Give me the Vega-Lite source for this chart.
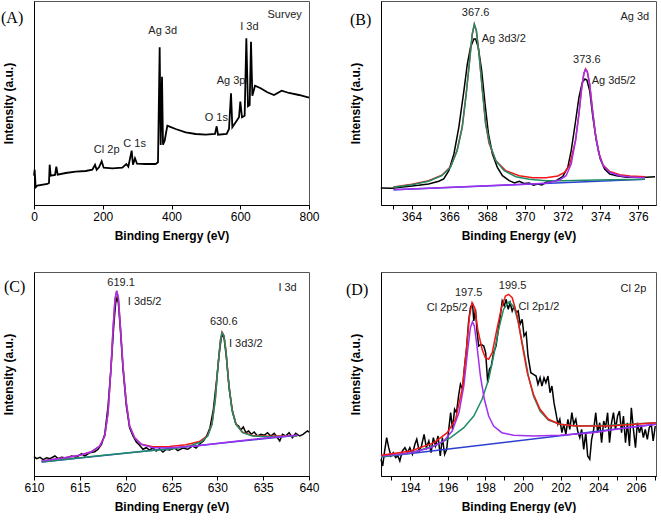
{
 "$schema": "https://vega.github.io/schema/vega-lite/v6.json",
 "padding": {"left": 0, "top": 0, "right": 0, "bottom": 0},
 "background": "white",
 "columns": 2,
 "bounds": "flush",
 "spacing": {"row": 67, "column": 72},
 "config": {
  "view": {"stroke": "#555", "strokeWidth": 1},
  "font": "Liberation Sans",
  "axis": {"grid": false, "domainColor": "black", "tickColor": "black", "labelColor": "black", "titleColor": "black", "labelFont": "Liberation Sans", "titleFont": "Liberation Sans", "labelFontSize": 12, "titleFontSize": 12, "titleFontWeight": "bold"},
  "axisX": {"tickSize": 4, "labelPadding": 2, "titlePadding": 8, "labelFlush": false, "labelOverlap": false, "labelBound": false},
  "axisY": {"ticks": false, "labels": false, "titlePadding": 19},
  "title": {"font": "Liberation Serif", "fontSize": 16, "fontWeight": "normal", "anchor": "start", "frame": "group", "offset": 0, "color": "black", "baseline": "alphabetic"},
  "text": {"font": "Liberation Sans", "fontSize": 11, "color": "#222"},
  "line": {"strokeWidth": 1.5}
 },
 "datasets": {
  "survey": [
   {"x":0,"y":29.3},{"x":1.9,"y":35.3},{"x":4.8,"y":17.7},{"x":9.7,"y":19.3},{"x":38.8,"y":21},{"x":43.6,"y":22},{"x":45.6,"y":40.3},{"x":48.5,"y":29.3},{"x":61.1,"y":30},{"x":65,"y":38.3},{"x":68.8,"y":30.3},{"x":92.1,"y":32},{"x":121.2,"y":33.3},{"x":150.3,"y":34},{"x":169.7,"y":35.3},{"x":177.5,"y":40.3},{"x":182.3,"y":35.3},{"x":189.1,"y":37.7},{"x":196.9,"y":43.7},{"x":202.7,"y":37.3},{"x":227.9,"y":36.7},{"x":257,"y":37.3},{"x":268.6,"y":41},{"x":274.4,"y":38.3},{"x":284.1,"y":54.3},{"x":288,"y":40.3},{"x":293.8,"y":46.7},{"x":299.6,"y":41.3},{"x":324.8,"y":41},{"x":353.9,"y":41},{"x":360.7,"y":42.7},{"x":365.6,"y":157.7},{"x":368.5,"y":60},{"x":372.4,"y":128.3},{"x":375.3,"y":60.3},{"x":380.1,"y":64.3},{"x":387.9,"y":79.3},{"x":394.7,"y":78.3},{"x":412.1,"y":76},{"x":441.2,"y":72.7},{"x":470.3,"y":71},{"x":499.4,"y":70.3},{"x":526.5,"y":71},{"x":531.4,"y":78.7},{"x":535.3,"y":70.3},{"x":560.5,"y":71},{"x":567.3,"y":76},{"x":573.1,"y":111.7},{"x":577,"y":77.7},{"x":586.7,"y":82.7},{"x":596.4,"y":87.7},{"x":600.2,"y":103.3},{"x":605.1,"y":87.7},{"x":612.8,"y":89.3},{"x":617.7,"y":166.7},{"x":622.5,"y":98.7},{"x":627.4,"y":100},{"x":631.3,"y":163.3},{"x":635.2,"y":109.3},{"x":642.9,"y":119.3},{"x":659.4,"y":116.7},{"x":678.8,"y":112.7},{"x":698.2,"y":110},{"x":720.5,"y":114.3},{"x":741.8,"y":112},{"x":770.9,"y":110},{"x":800,"y":107.3}
  ],
  "survey_text": [
   {"x":729.2,"y":190.3,"t":"Survey"},{"x":374.3,"y":173.7,"t":"Ag 3d"},{"x":626.4,"y":177.7,"t":"I 3d"},{"x":573.1,"y":123.7,"t":"Ag 3p"},{"x":530.4,"y":86.7,"t":"O 1s"},{"x":292.8,"y":61,"t":"C 1s"},{"x":211.4,"y":55.3,"t":"Cl 2p"}
  ],
  "ag": [
   {"s":"raw","x":362.37,"y":17},{"s":"raw","x":362.95,"y":16.7},{"s":"raw","x":363.66,"y":18.3},{"s":"raw","x":364.37,"y":19.7},{"s":"raw","x":364.9,"y":21},{"s":"raw","x":365.44,"y":23.7},{"s":"raw","x":365.7,"y":26},{"s":"raw","x":365.97,"y":34.3},{"s":"raw","x":366.24,"y":51},{"s":"raw","x":366.5,"y":77.7},{"s":"raw","x":366.77,"y":114.3},{"s":"raw","x":366.95,"y":141},{"s":"raw","x":367.12,"y":157.7},{"s":"raw","x":367.3,"y":166},{"s":"raw","x":367.39,"y":166},{"s":"raw","x":367.53,"y":157.7},{"s":"raw","x":367.71,"y":134.3},{"s":"raw","x":367.89,"y":101},{"s":"raw","x":368.07,"y":71},{"s":"raw","x":368.28,"y":51},{"s":"raw","x":368.54,"y":37.7},{"s":"raw","x":368.81,"y":29.3},{"s":"raw","x":369.17,"y":24.3},{"s":"raw","x":369.45,"y":22},{"s":"raw","x":369.7,"y":23.7},{"s":"raw","x":369.95,"y":21.5},{"s":"raw","x":370.23,"y":22},{"s":"raw","x":370.45,"y":19.8},{"s":"raw","x":370.67,"y":21},{"s":"raw","x":370.9,"y":20},{"s":"raw","x":371.12,"y":22.7},{"s":"raw","x":371.65,"y":24.3},{"s":"raw","x":372,"y":28.3},{"s":"raw","x":372.27,"y":37.7},{"s":"raw","x":372.45,"y":54.3},{"s":"raw","x":372.66,"y":81},{"s":"raw","x":372.86,"y":107.7},{"s":"raw","x":373.04,"y":122.7},{"s":"raw","x":373.18,"y":126},{"s":"raw","x":373.28,"y":125},{"s":"raw","x":373.43,"y":114.3},{"s":"raw","x":373.6,"y":87.7},{"s":"raw","x":373.78,"y":64.3},{"s":"raw","x":373.99,"y":46},{"s":"raw","x":374.22,"y":36},{"s":"raw","x":374.49,"y":31},{"s":"raw","x":374.85,"y":29.3},{"s":"raw","x":375.38,"y":27.7},{"s":"raw","x":375.91,"y":27.7},{"s":"raw","x":376.44,"y":27.7},{"s":"raw","x":376.89,"y":28.3},
   {"s":"background","x":363.04,"y":15.3},{"s":"background","x":376.36,"y":25.7},
   {"s":"envelope","x":363.04,"y":18},{"s":"envelope","x":364.02,"y":20.8},{"s":"envelope","x":364.9,"y":24.2},{"s":"envelope","x":365.6,"y":29.8},{"s":"envelope","x":366.06,"y":38.2},{"s":"envelope","x":366.41,"y":54.8},{"s":"envelope","x":366.68,"y":78},{"s":"envelope","x":366.89,"y":111},{"s":"envelope","x":367.07,"y":144},{"s":"envelope","x":367.21,"y":170.5},{"s":"envelope","x":367.32,"y":180.5},{"s":"envelope","x":367.43,"y":174},{"s":"envelope","x":367.57,"y":151},{"s":"envelope","x":367.75,"y":114.5},{"s":"envelope","x":367.92,"y":81.5},{"s":"envelope","x":368.1,"y":61.7},{"s":"envelope","x":368.46,"y":44.3},{"s":"envelope","x":368.99,"y":34.3},{"s":"envelope","x":369.7,"y":29.3},{"s":"envelope","x":370.41,"y":27.3},{"s":"envelope","x":371.12,"y":27.3},{"s":"envelope","x":371.74,"y":29},{"s":"envelope","x":372.1,"y":32.7},{"s":"envelope","x":372.36,"y":39.3},{"s":"envelope","x":372.68,"y":64.8},{"s":"envelope","x":372.86,"y":91.5},{"s":"envelope","x":373,"y":116.5},{"s":"envelope","x":373.12,"y":131.5},{"s":"envelope","x":373.21,"y":136.2},{"s":"envelope","x":373.3,"y":133.8},{"s":"envelope","x":373.43,"y":120.8},{"s":"envelope","x":373.57,"y":96.5},{"s":"envelope","x":373.73,"y":71.5},{"s":"envelope","x":373.92,"y":51.5},{"s":"envelope","x":374.14,"y":40},{"s":"envelope","x":374.49,"y":33.5},{"s":"envelope","x":375.02,"y":30.3},{"s":"envelope","x":375.56,"y":29},{"s":"envelope","x":376.36,"y":28.3},
   {"s":"partner peak","x":363.04,"y":17.7},{"s":"partner peak","x":364.02,"y":20.3},{"s":"partner peak","x":364.9,"y":23.7},{"s":"partner peak","x":365.6,"y":29.3},{"s":"partner peak","x":366.06,"y":37.7},{"s":"partner peak","x":366.41,"y":54.3},{"s":"partner peak","x":366.68,"y":77.7},{"s":"partner peak","x":366.89,"y":111},{"s":"partner peak","x":367.07,"y":144.3},{"s":"partner peak","x":367.21,"y":171},{"s":"partner peak","x":367.32,"y":181},{"s":"partner peak","x":367.43,"y":174.3},{"s":"partner peak","x":367.57,"y":151},{"s":"partner peak","x":367.75,"y":114.3},{"s":"partner peak","x":367.92,"y":81},{"s":"partner peak","x":368.14,"y":61},{"s":"partner peak","x":368.46,"y":44.3},{"s":"partner peak","x":368.9,"y":34.3},{"s":"partner peak","x":369.52,"y":28.3},{"s":"partner peak","x":370.23,"y":25.7},{"s":"partner peak","x":371.12,"y":24.3},{"s":"partner peak","x":372,"y":24.3},{"s":"partner peak","x":373.78,"y":25},{"s":"partner peak","x":376.36,"y":25.7},
   {"s":"5/2 peak","x":363.04,"y":15.3},{"s":"5/2 peak","x":371.12,"y":21.7},{"s":"5/2 peak","x":371.83,"y":25},{"s":"5/2 peak","x":372.18,"y":29.3},{"s":"5/2 peak","x":372.45,"y":41},{"s":"5/2 peak","x":372.68,"y":64.3},{"s":"5/2 peak","x":372.86,"y":91},{"s":"5/2 peak","x":373,"y":116},{"s":"5/2 peak","x":373.12,"y":131},{"s":"5/2 peak","x":373.21,"y":135.7},{"s":"5/2 peak","x":373.3,"y":133.3},{"s":"5/2 peak","x":373.43,"y":120.3},{"s":"5/2 peak","x":373.57,"y":96},{"s":"5/2 peak","x":373.73,"y":71},{"s":"5/2 peak","x":373.92,"y":51},{"s":"5/2 peak","x":374.14,"y":39.3},{"s":"5/2 peak","x":374.49,"y":32.7},{"s":"5/2 peak","x":375.02,"y":29.3},{"s":"5/2 peak","x":375.56,"y":28},{"s":"5/2 peak","x":376.36,"y":27.3}
  ],
  "ag_text": [
   {"x":367.39,"y":192,"t":"367.6"},{"x":368.88,"y":166,"t":"Ag 3d3/2"},{"x":373.28,"y":145.3,"t":"373.6"},{"x":374.7,"y":123.7,"t":"Ag 3d5/2"},{"x":375.82,"y":187.7,"t":"Ag 3d"}
  ],
  "iod": [
   {"s":"raw","x":610,"y":19.3},{"s":"raw","x":610.29,"y":17.3},{"s":"raw","x":610.65,"y":18.7},{"s":"raw","x":611.01,"y":16.3},{"s":"raw","x":611.38,"y":18.3},{"s":"raw","x":611.74,"y":17.3},{"s":"raw","x":612.28,"y":20},{"s":"raw","x":612.64,"y":17.3},{"s":"raw","x":613,"y":18.7},{"s":"raw","x":613.55,"y":18},{"s":"raw","x":614.09,"y":20},{"s":"raw","x":614.64,"y":18.7},{"s":"raw","x":615.18,"y":22.3},{"s":"raw","x":615.54,"y":20},{"s":"raw","x":616.09,"y":23.3},{"s":"raw","x":616.63,"y":24.3},{"s":"raw","x":616.99,"y":26.7},{"s":"raw","x":617.36,"y":31.7},{"s":"raw","x":617.72,"y":41.7},{"s":"raw","x":618.08,"y":70},{"s":"raw","x":618.44,"y":113.3},{"s":"raw","x":618.7,"y":150},{"s":"raw","x":618.91,"y":173.3},{"s":"raw","x":619.06,"y":178.3},{"s":"raw","x":619.2,"y":173.3},{"s":"raw","x":619.42,"y":146.7},{"s":"raw","x":619.71,"y":106.7},{"s":"raw","x":620.07,"y":70},{"s":"raw","x":620.43,"y":48.3},{"s":"raw","x":620.8,"y":40},{"s":"raw","x":621.16,"y":34},{"s":"raw","x":621.52,"y":30.7},{"s":"raw","x":621.88,"y":26.7},{"s":"raw","x":622.25,"y":28.3},{"s":"raw","x":622.61,"y":26},{"s":"raw","x":622.97,"y":28},{"s":"raw","x":623.33,"y":25},{"s":"raw","x":623.7,"y":27.3},{"s":"raw","x":624.06,"y":24},{"s":"raw","x":624.42,"y":26.7},{"s":"raw","x":624.78,"y":26},{"s":"raw","x":625.33,"y":28},{"s":"raw","x":625.69,"y":25.3},{"s":"raw","x":626.23,"y":28},{"s":"raw","x":626.78,"y":26.7},{"s":"raw","x":627.32,"y":30},{"s":"raw","x":627.68,"y":28},{"s":"raw","x":628.12,"y":32.3},{"s":"raw","x":628.48,"y":35},{"s":"raw","x":628.84,"y":40},{"s":"raw","x":629.2,"y":48.3},{"s":"raw","x":629.57,"y":66.7},{"s":"raw","x":629.93,"y":96.7},{"s":"raw","x":630.22,"y":123.3},{"s":"raw","x":630.43,"y":138.3},{"s":"raw","x":630.58,"y":141.7},{"s":"raw","x":630.76,"y":136.7},{"s":"raw","x":631.01,"y":116.7},{"s":"raw","x":631.3,"y":86.7},{"s":"raw","x":631.67,"y":63.3},{"s":"raw","x":632.03,"y":51.7},{"s":"raw","x":632.32,"y":50},{"s":"raw","x":632.57,"y":46},{"s":"raw","x":632.83,"y":49},{"s":"raw","x":633.12,"y":43.3},{"s":"raw","x":633.41,"y":45},{"s":"raw","x":633.7,"y":41.7},{"s":"raw","x":634.02,"y":44},{"s":"raw","x":634.38,"y":40},{"s":"raw","x":634.75,"y":41.7},{"s":"raw","x":635.11,"y":40.7},{"s":"raw","x":635.47,"y":43.3},{"s":"raw","x":635.83,"y":40},{"s":"raw","x":636.2,"y":42.7},{"s":"raw","x":636.56,"y":38.3},{"s":"raw","x":636.81,"y":35},{"s":"raw","x":637.1,"y":41.7},{"s":"raw","x":637.46,"y":40},{"s":"raw","x":637.83,"y":43.3},{"s":"raw","x":638.19,"y":38.3},{"s":"raw","x":638.55,"y":42.7},{"s":"raw","x":638.99,"y":40},{"s":"raw","x":639.35,"y":41.7},{"s":"raw","x":639.82,"y":45},{"s":"raw","x":640,"y":44},
   {"s":"background","x":610.83,"y":14},{"s":"background","x":638.73,"y":40.7},
   {"s":"envelope","x":610.83,"y":15},{"s":"envelope","x":613.19,"y":18},{"s":"envelope","x":615,"y":20.7},{"s":"envelope","x":616.27,"y":24.3},{"s":"envelope","x":617.17,"y":30},{"s":"envelope","x":617.72,"y":40},{"s":"envelope","x":618.08,"y":63.3},{"s":"envelope","x":618.37,"y":103.3},{"s":"envelope","x":618.62,"y":146.7},{"s":"envelope","x":618.84,"y":176.7},{"s":"envelope","x":619.02,"y":185},{"s":"envelope","x":619.2,"y":178.3},{"s":"envelope","x":619.42,"y":150},{"s":"envelope","x":619.71,"y":110},{"s":"envelope","x":620.07,"y":73.3},{"s":"envelope","x":620.43,"y":50},{"s":"envelope","x":620.98,"y":38.3},{"s":"envelope","x":621.7,"y":31.7},{"s":"envelope","x":622.97,"y":29.3},{"s":"envelope","x":624.78,"y":29.6},{"s":"envelope","x":626.59,"y":31.3},{"s":"envelope","x":628.04,"y":34.5},{"s":"envelope","x":628.95,"y":40.5},{"s":"envelope","x":629.42,"y":52.2},{"s":"envelope","x":629.78,"y":77.2},{"s":"envelope","x":630.07,"y":110.5},{"s":"envelope","x":630.33,"y":135.5},{"s":"envelope","x":630.51,"y":143.8},{"s":"envelope","x":630.72,"y":140.5},{"s":"envelope","x":630.94,"y":125.5},{"s":"envelope","x":631.23,"y":93.8},{"s":"envelope","x":631.59,"y":67.2},{"s":"envelope","x":632.03,"y":52.2},{"s":"envelope","x":632.75,"y":43.8},{"s":"envelope","x":633.84,"y":40.5},{"s":"envelope","x":635.65,"y":39.8},{"s":"envelope","x":638.73,"y":40.5},
   {"s":"partner peak","x":610.83,"y":14},{"s":"partner peak","x":616.81,"y":20},{"s":"partner peak","x":622.25,"y":25},{"s":"partner peak","x":625.14,"y":27.3},{"s":"partner peak","x":626.96,"y":30},{"s":"partner peak","x":628.22,"y":34},{"s":"partner peak","x":628.95,"y":40},{"s":"partner peak","x":629.42,"y":51.7},{"s":"partner peak","x":629.78,"y":76.7},{"s":"partner peak","x":630.07,"y":110},{"s":"partner peak","x":630.33,"y":135},{"s":"partner peak","x":630.51,"y":143.3},{"s":"partner peak","x":630.72,"y":140},{"s":"partner peak","x":630.94,"y":125},{"s":"partner peak","x":631.23,"y":93.3},{"s":"partner peak","x":631.59,"y":66.7},{"s":"partner peak","x":632.03,"y":51.7},{"s":"partner peak","x":632.75,"y":43.3},{"s":"partner peak","x":633.84,"y":40},{"s":"partner peak","x":635.65,"y":39.3},{"s":"partner peak","x":638.73,"y":40},
   {"s":"5/2 peak","x":610.83,"y":15},{"s":"5/2 peak","x":613.19,"y":18},{"s":"5/2 peak","x":615,"y":20.7},{"s":"5/2 peak","x":616.27,"y":24.3},{"s":"5/2 peak","x":617.17,"y":30},{"s":"5/2 peak","x":617.72,"y":40},{"s":"5/2 peak","x":618.08,"y":63.3},{"s":"5/2 peak","x":618.37,"y":103.3},{"s":"5/2 peak","x":618.62,"y":146.7},{"s":"5/2 peak","x":618.84,"y":176.7},{"s":"5/2 peak","x":619.02,"y":185},{"s":"5/2 peak","x":619.2,"y":178.3},{"s":"5/2 peak","x":619.42,"y":150},{"s":"5/2 peak","x":619.71,"y":110},{"s":"5/2 peak","x":620.07,"y":73.3},{"s":"5/2 peak","x":620.43,"y":50},{"s":"5/2 peak","x":620.98,"y":38.3},{"s":"5/2 peak","x":621.7,"y":31.7},{"s":"5/2 peak","x":622.97,"y":28.3},{"s":"5/2 peak","x":624.78,"y":28.3},{"s":"5/2 peak","x":627.68,"y":30},{"s":"5/2 peak","x":631.3,"y":34},{"s":"5/2 peak","x":634.93,"y":37.7},{"s":"5/2 peak","x":638.73,"y":40.7}
  ],
  "iod_text": [
   {"x":619.5,"y":193,"t":"619.1"},{"x":622.07,"y":174,"t":"I 3d5/2"},{"x":630.7,"y":154,"t":"630.6"},{"x":633.1,"y":132.3,"t":"I 3d3/2"},{"x":637.66,"y":188.3,"t":"I 3d"}
  ],
  "chl": [
   {"s":"raw","x":192.45,"y":16.7},{"s":"raw","x":192.54,"y":10},{"s":"raw","x":192.63,"y":23.3},{"s":"raw","x":192.75,"y":38.3},{"s":"raw","x":192.86,"y":28.3},{"s":"raw","x":192.98,"y":20},{"s":"raw","x":193.1,"y":23.3},{"s":"raw","x":193.23,"y":18.3},{"s":"raw","x":193.35,"y":20},{"s":"raw","x":193.45,"y":15},{"s":"raw","x":193.58,"y":25},{"s":"raw","x":193.72,"y":28.3},{"s":"raw","x":193.86,"y":23.3},{"s":"raw","x":193.98,"y":28.3},{"s":"raw","x":194.12,"y":21.7},{"s":"raw","x":194.25,"y":31.7},{"s":"raw","x":194.35,"y":36.7},{"s":"raw","x":194.48,"y":25},{"s":"raw","x":194.6,"y":30},{"s":"raw","x":194.74,"y":41.7},{"s":"raw","x":194.86,"y":28.3},{"s":"raw","x":194.99,"y":35},{"s":"raw","x":195.11,"y":23.3},{"s":"raw","x":195.23,"y":38.3},{"s":"raw","x":195.35,"y":30},{"s":"raw","x":195.48,"y":40},{"s":"raw","x":195.6,"y":20},{"s":"raw","x":195.71,"y":38.3},{"s":"raw","x":195.83,"y":21.7},{"s":"raw","x":195.94,"y":26.7},{"s":"raw","x":196.04,"y":45},{"s":"raw","x":196.15,"y":63.3},{"s":"raw","x":196.25,"y":46.7},{"s":"raw","x":196.36,"y":66.7},{"s":"raw","x":196.46,"y":63.3},{"s":"raw","x":196.57,"y":80},{"s":"raw","x":196.67,"y":91.7},{"s":"raw","x":196.78,"y":86.7},{"s":"raw","x":196.89,"y":110},{"s":"raw","x":196.99,"y":126.7},{"s":"raw","x":197.1,"y":153.3},{"s":"raw","x":197.2,"y":168.3},{"s":"raw","x":197.31,"y":173.3},{"s":"raw","x":197.38,"y":155},{"s":"raw","x":197.47,"y":166.7},{"s":"raw","x":197.55,"y":145},{"s":"raw","x":197.64,"y":130},{"s":"raw","x":197.77,"y":131.7},{"s":"raw","x":197.91,"y":130},{"s":"raw","x":198.01,"y":123.3},{"s":"raw","x":198.12,"y":93.3},{"s":"raw","x":198.21,"y":106.7},{"s":"raw","x":198.31,"y":110},{"s":"raw","x":198.43,"y":123.3},{"s":"raw","x":198.56,"y":130},{"s":"raw","x":198.66,"y":143.3},{"s":"raw","x":198.79,"y":160},{"s":"raw","x":198.89,"y":175},{"s":"raw","x":199,"y":170},{"s":"raw","x":199.1,"y":176.7},{"s":"raw","x":199.21,"y":166.7},{"s":"raw","x":199.31,"y":173.3},{"s":"raw","x":199.42,"y":165},{"s":"raw","x":199.53,"y":170},{"s":"raw","x":199.63,"y":163.3},{"s":"raw","x":199.74,"y":165},{"s":"raw","x":199.84,"y":151.7},{"s":"raw","x":199.95,"y":156.7},{"s":"raw","x":200.05,"y":140},{"s":"raw","x":200.16,"y":143.3},{"s":"raw","x":200.26,"y":120},{"s":"raw","x":200.41,"y":103.3},{"s":"raw","x":200.55,"y":101.7},{"s":"raw","x":200.69,"y":100},{"s":"raw","x":200.79,"y":91.7},{"s":"raw","x":200.9,"y":98.3},{"s":"raw","x":201,"y":90},{"s":"raw","x":201.11,"y":98.3},{"s":"raw","x":201.21,"y":93.3},{"s":"raw","x":201.32,"y":100},{"s":"raw","x":201.43,"y":83.3},{"s":"raw","x":201.53,"y":90},{"s":"raw","x":201.64,"y":73.3},{"s":"raw","x":201.74,"y":63.3},{"s":"raw","x":201.85,"y":51.7},{"s":"raw","x":201.95,"y":56.7},{"s":"raw","x":202.06,"y":43.3},{"s":"raw","x":202.16,"y":51.7},{"s":"raw","x":202.27,"y":41.7},{"s":"raw","x":202.38,"y":56.7},{"s":"raw","x":202.48,"y":46.7},{"s":"raw","x":202.59,"y":63.3},{"s":"raw","x":202.69,"y":51.7},{"s":"raw","x":202.8,"y":56.7},{"s":"raw","x":202.9,"y":45},{"s":"raw","x":203.01,"y":38.3},{"s":"raw","x":203.11,"y":46.7},{"s":"raw","x":203.22,"y":26.7},{"s":"raw","x":203.33,"y":43.3},{"s":"raw","x":203.43,"y":20},{"s":"raw","x":203.54,"y":16.7},{"s":"raw","x":203.64,"y":36.7},{"s":"raw","x":203.75,"y":46.7},{"s":"raw","x":203.86,"y":63.3},{"s":"raw","x":203.96,"y":43.3},{"s":"raw","x":204.07,"y":53.3},{"s":"raw","x":204.17,"y":33.3},{"s":"raw","x":204.28,"y":55},{"s":"raw","x":204.38,"y":48.3},{"s":"raw","x":204.49,"y":63.3},{"s":"raw","x":204.59,"y":33.3},{"s":"raw","x":204.7,"y":53.3},{"s":"raw","x":204.8,"y":63.3},{"s":"raw","x":204.91,"y":46.7},{"s":"raw","x":205.02,"y":60},{"s":"raw","x":205.12,"y":65},{"s":"raw","x":205.23,"y":43.3},{"s":"raw","x":205.33,"y":60},{"s":"raw","x":205.44,"y":33.3},{"s":"raw","x":205.54,"y":53.3},{"s":"raw","x":205.65,"y":30},{"s":"raw","x":205.75,"y":68.3},{"s":"raw","x":205.86,"y":46.7},{"s":"raw","x":205.97,"y":28.3},{"s":"raw","x":206.07,"y":53.3},{"s":"raw","x":206.18,"y":43.3},{"s":"raw","x":206.28,"y":50},{"s":"raw","x":206.39,"y":38.3},{"s":"raw","x":206.49,"y":46.7},{"s":"raw","x":206.6,"y":36.7},{"s":"raw","x":206.7,"y":48.3},{"s":"raw","x":206.81,"y":51.7},{"s":"raw","x":206.91,"y":35},{"s":"raw","x":207.02,"y":50},
   {"s":"background","x":192.45,"y":19},{"s":"background","x":207.06,"y":51.7},
   {"s":"partner peak","x":192.45,"y":19},{"s":"partner peak","x":194.04,"y":23.3},{"s":"partner peak","x":195.27,"y":30},{"s":"partner peak","x":196.15,"y":38.3},{"s":"partner peak","x":196.85,"y":48.3},{"s":"partner peak","x":197.38,"y":60},{"s":"partner peak","x":197.82,"y":76.7},{"s":"partner peak","x":198.17,"y":96.7},{"s":"partner peak","x":198.43,"y":120},{"s":"partner peak","x":198.7,"y":146.7},{"s":"partner peak","x":198.96,"y":166.7},{"s":"partner peak","x":199.26,"y":174.3},{"s":"partner peak","x":199.53,"y":168.3},{"s":"partner peak","x":199.75,"y":153.3},{"s":"partner peak","x":200.02,"y":126.7},{"s":"partner peak","x":200.28,"y":100},{"s":"partner peak","x":200.55,"y":80},{"s":"partner peak","x":200.9,"y":65},{"s":"partner peak","x":201.34,"y":56},{"s":"partner peak","x":201.95,"y":51.7},{"s":"partner peak","x":202.83,"y":50},{"s":"partner peak","x":204.59,"y":50.7},{"s":"partner peak","x":207.06,"y":53.3},
   {"s":"5/2 peak","x":192.45,"y":20},{"s":"5/2 peak","x":194.04,"y":23.3},{"s":"5/2 peak","x":195.09,"y":28.3},{"s":"5/2 peak","x":195.79,"y":35},{"s":"5/2 peak","x":196.23,"y":45},{"s":"5/2 peak","x":196.59,"y":63.3},{"s":"5/2 peak","x":196.85,"y":90},{"s":"5/2 peak","x":197.06,"y":126.7},{"s":"5/2 peak","x":197.2,"y":148.3},{"s":"5/2 peak","x":197.31,"y":154.3},{"s":"5/2 peak","x":197.41,"y":150},{"s":"5/2 peak","x":197.55,"y":130},{"s":"5/2 peak","x":197.73,"y":100},{"s":"5/2 peak","x":197.94,"y":76.7},{"s":"5/2 peak","x":198.17,"y":60},{"s":"5/2 peak","x":198.43,"y":50},{"s":"5/2 peak","x":198.87,"y":43.3},{"s":"5/2 peak","x":199.49,"y":40.7},{"s":"5/2 peak","x":200.55,"y":40},{"s":"5/2 peak","x":201.95,"y":40.7},{"s":"5/2 peak","x":203.71,"y":43.3},{"s":"5/2 peak","x":205.47,"y":48.3},{"s":"5/2 peak","x":207.06,"y":51.7},
   {"s":"envelope","x":192.45,"y":20.7},{"s":"envelope","x":194.04,"y":25},{"s":"envelope","x":195.27,"y":33.3},{"s":"envelope","x":195.97,"y":43.3},{"s":"envelope","x":196.41,"y":56.7},{"s":"envelope","x":196.76,"y":86.7},{"s":"envelope","x":196.99,"y":126.7},{"s":"envelope","x":197.15,"y":160},{"s":"envelope","x":197.29,"y":173.3},{"s":"envelope","x":197.43,"y":168.3},{"s":"envelope","x":197.59,"y":146.7},{"s":"envelope","x":197.82,"y":126.7},{"s":"envelope","x":197.99,"y":118.3},{"s":"envelope","x":198.17,"y":116.7},{"s":"envelope","x":198.36,"y":123.3},{"s":"envelope","x":198.59,"y":145},{"s":"envelope","x":198.85,"y":168.3},{"s":"envelope","x":199.06,"y":180},{"s":"envelope","x":199.23,"y":181.7},{"s":"envelope","x":199.42,"y":178.3},{"s":"envelope","x":199.67,"y":161.7},{"s":"envelope","x":199.95,"y":131.7},{"s":"envelope","x":200.22,"y":103.3},{"s":"envelope","x":200.55,"y":81.7},{"s":"envelope","x":200.9,"y":66.7},{"s":"envelope","x":201.34,"y":56.7},{"s":"envelope","x":201.95,"y":51.7},{"s":"envelope","x":202.83,"y":50},{"s":"envelope","x":204.59,"y":50},{"s":"envelope","x":207.06,"y":53.3}
  ],
  "chl_text": [
   {"x":197.11,"y":183.3,"t":"197.5"},{"x":195.97,"y":168.3,"t":"Cl 2p5/2"},{"x":199.44,"y":190,"t":"199.5"},{"x":200.84,"y":169.3,"t":"Cl 2p1/2"},{"x":205.86,"y":186.7,"t":"Cl 2p"}
  ]
 },
 "concat": [
  {
   "width": 275, "height": 204,
   "title": {"text": "(A)", "dx": -33, "dy": 29},
   "layer": [
    {"data": {"name": "survey"}, "mark": {"type": "line", "color": "black", "strokeWidth": 1.8},
     "encoding": {
      "x": {"field": "x", "type": "quantitative", "scale": {"domain": [0, 800], "nice": false, "zero": false}, "axis": {"title": "Binding Energy (eV)", "labelOverlap": false, "values": [0,100,200,300,400,500,600,700,800], "labelExpr": "datum.value % 200 === 0 ? datum.label : ''"}},
      "y": {"field": "y", "type": "quantitative", "scale": {"domain": [0, 204], "nice": false}, "axis": {"title": "Intensity (a.u.)"}}
     }},
    {"data": {"name": "survey_text"}, "mark": {"type": "text"},
     "encoding": {"x": {"field": "x", "type": "quantitative"}, "y": {"field": "y", "type": "quantitative"}, "text": {"field": "t"}}}
   ]
  },
  {
   "width": 275, "height": 204,
   "title": {"text": "(B)", "dx": -31, "dy": 31},
   "resolve": {"axis": {"x": "independent"}},
   "layer": [
    {"data": {"name": "ag"}, "mark": {"type": "line"},
     "encoding": {
      "x": {"field": "x", "type": "quantitative", "scale": {"domain": [362.38, 376.94], "nice": false, "zero": false}, "axis": {"orient": "bottom", "title": "Binding Energy (eV)", "labelOverlap": false, "values": [364,366,368,370,372,374,376]}},
      "y": {"field": "y", "type": "quantitative", "scale": {"domain": [0, 204], "nice": false}, "axis": {"title": "Intensity (a.u.)"}},
      "color": {"field": "s", "type": "nominal", "scale": {"domain": ["raw","background","envelope","partner peak","5/2 peak"], "range": ["black","#2c3fd1","#f21818","#1f8c66","#a030f0"]}, "legend": null}
     }},
    {"data": {"name": "ag_text"}, "mark": {"type": "text"},
     "encoding": {"x": {"field": "x", "type": "quantitative", "axis": {"orient": "bottom", "title": null, "labels": false, "domain": false, "values": [363,365,367,369,371,373,375]}}, "y": {"field": "y", "type": "quantitative"}, "text": {"field": "t"}}}
   ]
  },
  {
   "width": 275, "height": 204,
   "title": {"text": "(C)", "dx": -30, "dy": 27},
   "layer": [
    {"data": {"name": "iod"}, "mark": {"type": "line"},
     "encoding": {
      "x": {"field": "x", "type": "quantitative", "scale": {"domain": [610, 640], "nice": false, "zero": false}, "axis": {"title": "Binding Energy (eV)", "labelOverlap": false, "values": [610,612.5,615,617.5,620,622.5,625,627.5,630,632.5,635,637.5,640], "labelExpr": "datum.value % 5 === 0 ? datum.label : ''"}},
      "y": {"field": "y", "type": "quantitative", "scale": {"domain": [0, 204], "nice": false}, "axis": {"title": "Intensity (a.u.)"}},
      "color": {"field": "s", "type": "nominal", "scale": {"domain": ["raw","background","envelope","partner peak","5/2 peak"], "range": ["black","#2c3fd1","#f21818","#1f8c66","#a030f0"]}, "legend": null}
     }},
    {"data": {"name": "iod_text"}, "mark": {"type": "text"},
     "encoding": {"x": {"field": "x", "type": "quantitative"}, "y": {"field": "y", "type": "quantitative"}, "text": {"field": "t"}}}
   ]
  },
  {
   "width": 275, "height": 204,
   "title": {"text": "(D)", "dx": -35, "dy": 30},
   "resolve": {"axis": {"x": "independent"}},
   "layer": [
    {"data": {"name": "chl"}, "mark": {"type": "line"},
     "encoding": {
      "x": {"field": "x", "type": "quantitative", "scale": {"domain": [192.45, 207.06], "nice": false, "zero": false}, "axis": {"orient": "bottom", "title": "Binding Energy (eV)", "labelOverlap": false, "values": [194,196,198,200,202,204,206]}},
      "y": {"field": "y", "type": "quantitative", "scale": {"domain": [0, 204], "nice": false}, "axis": {"title": "Intensity (a.u.)"}},
      "color": {"field": "s", "type": "nominal", "scale": {"domain": ["raw","background","envelope","partner peak","5/2 peak"], "range": ["black","#2c3fd1","#f21818","#1f8c66","#a030f0"]}, "legend": null}
     }},
    {"data": {"name": "chl_text"}, "mark": {"type": "text"},
     "encoding": {"x": {"field": "x", "type": "quantitative", "axis": {"orient": "bottom", "title": null, "labels": false, "domain": false, "values": [193,195,197,199,201,203,205,207]}}, "y": {"field": "y", "type": "quantitative"}, "text": {"field": "t"}}}
   ]
  }
 ]
}
